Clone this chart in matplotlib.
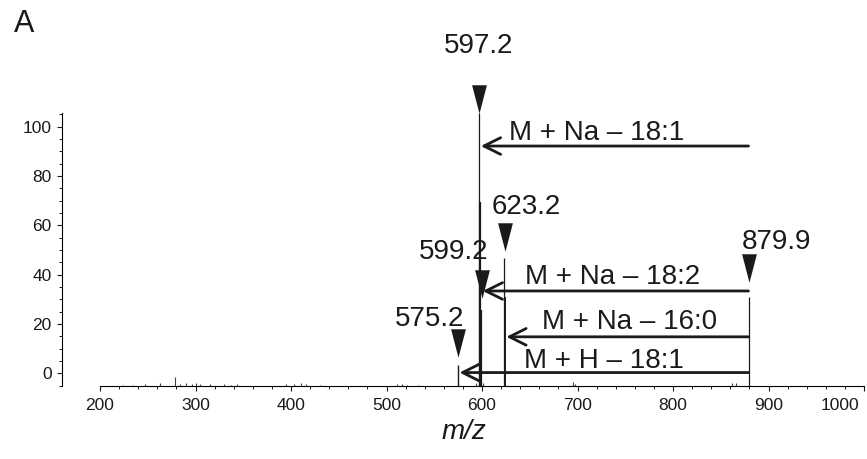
import matplotlib
matplotlib.use("Agg")
import matplotlib.pyplot as plt
from matplotlib.path import Path
from matplotlib.ticker import FixedLocator
from matplotlib.transforms import ScaledTranslation

plt.rcParams['font.family'] = ['Liberation Sans', 'DejaVu Sans']

# ---- data (y values on the axis scale) ----
peak_mz = [575.2, 597.2, 598.2, 599.2, 623.2, 624.2, 879.9]
peak_int = [3.4, 105.5, 69.6, 25.7, 46.8, 31.0, 31.0]

noise_mz = [224, 235, 247, 263, 278.5, 284, 290, 296, 300, 305, 315, 330, 337,
            343, 395, 403, 410, 416, 430, 511, 516, 521, 533, 594, 601, 695,
            697, 862, 866]
noise_int = [-4.6, -4.6, -4.4, -4.0, -1.6, -4.2, -4.0, -4.3, -4.0, -4.2, -4.5,
             -4.5, -4.6, -4.5, -4.4, -4.2, -4.0, -4.4, -4.6, -4.4, -4.2, -4.6,
             -4.6, -4.0, -3.8, -3.6, -4.2, -4.0, -4.0]

label_texts = ['597.2', '599.2', '623.2', '879.9', '575.2']
label_mz = [596.9, 570.7, 646.7, 907.9, 545.0]
label_y = [129.8, 46.2, 64.6, 50.3, 19.3]

marker_mz = [597.2, 599.6, 624.1, 879.4, 574.8]
marker_y = [111.4, 36.4, 55.1, 42.9, 12.1]

arrow_names = ['M + Na \u2013 18:1', 'M + Na \u2013 18:2', 'M + Na \u2013 16:0', 'M + H \u2013 18:1']
arrow_from = [879.0, 879.0, 879.0, 879.0]
arrow_to = [598.8, 600.8, 625.5, 576.4]
arrow_y = [92.2, 33.4, 14.8, 0.3]
arrow_text_mz = [720.0, 736.6, 755.0, 727.7]
arrow_text_y = [94.6, 36.2, 17.8, 2.0]

x_ticks = [200, 300, 400, 500, 600, 700, 800, 900, 1000]
x_minor = list(range(200, 1001, 20))
y_ticks = [0, 20, 40, 60, 80, 100]
y_minor = list(range(-5, 106, 5))

# ---- figure ----
W, H = 867, 459
fig = plt.figure(figsize=(W / 100, H / 100), dpi=100)
ax = fig.add_axes([62 / W, (H - 386) / H, (864 - 62) / W, (386 - 113) / H])
xmin, ymin = 160.2, -5.15
ax.set_xlim(xmin, 1000)
ax.set_ylim(ymin, 105.6)

ink = '#1a1a1a'

# noise and peaks
ax.vlines(noise_mz, ymin, noise_int, color='#444444', lw=0.8)
ax.vlines(peak_mz, ymin, peak_int, color=ink, lw=[1.0, 0.9, 1.6, 1.6, 0.9, 1.4, 0.9],
          clip_on=False)

# triangles
tri = Path([(-0.52, 1.0), (0.52, 1.0), (0.0, -1.0), (-0.52, 1.0)],
           [Path.MOVETO, Path.LINETO, Path.LINETO, Path.CLOSEPOLY])
ax.plot(marker_mz, marker_y, linestyle='none', marker=tri, markersize=20.5,
        color=ink, markeredgewidth=0, clip_on=False)

# peak labels
for t, x, y in zip(label_texts, label_mz, label_y):
    ax.text(x, y, t, ha='center', va='baseline', fontsize=20, color=ink,
            clip_on=False)

# arrows
for name, x0, x1, y, tx, ty in zip(arrow_names, arrow_from, arrow_to, arrow_y,
                                   arrow_text_mz, arrow_text_y):
    ax.annotate('', xy=(x1, y), xytext=(x0, y),
                arrowprops=dict(arrowstyle='->,head_length=0.6,head_width=0.3',
                                lw=2.0, color=ink, shrinkA=0, shrinkB=0,
                                mutation_scale=20))
    ax.text(tx, ty, name, ha='center', va='baseline', fontsize=20, color=ink)

# axes styling
for s in ['top', 'right']:
    ax.spines[s].set_visible(False)
ax.spines['bottom'].set_bounds(200, 1000)
ax.spines['bottom'].set_linewidth(0.8)
ax.spines['left'].set_linewidth(0.8)
ax.set_xticks(x_ticks)
ax.set_yticks(y_ticks)
ax.xaxis.set_minor_locator(FixedLocator(x_minor))
ax.yaxis.set_minor_locator(FixedLocator(y_minor))
ax.tick_params(axis='both', which='major', length=3.5, width=0.8, labelsize=12.5,
               colors=ink)
ax.tick_params(axis='both', which='minor', length=2.2, width=0.7, colors=ink)
ax.tick_params(axis='x', which='major', pad=5)
ax.tick_params(axis='y', which='major', pad=4)

# last x tick label sits a little left of its tick in the reference
last = ax.get_xticklabels()[-1]
last.set_transform(last.get_transform() + ScaledTranslation(-0.24, 0, fig.dpi_scale_trans))

ax.set_xlabel('m/z', fontsize=20, style='italic', color=ink, va='center')
ax.xaxis.set_label_coords((464 - 62) / (864 - 62), (386 - 432) / (386 - 113))

fig.text(24 / W, 1 - 24 / H, 'A', fontsize=22, ha='center', va='center', color=ink)

fig.savefig('out.png', dpi=100)
